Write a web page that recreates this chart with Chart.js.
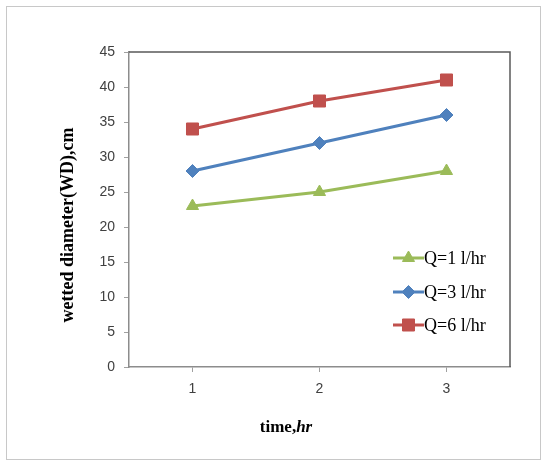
<!DOCTYPE html>
<html>
<head>
<meta charset="utf-8">
<script src="https://cdn.jsdelivr.net/npm/chart.js@4/dist/chart.umd.min.js"></script>
<style>
  html, body { margin: 0; padding: 0; background: #fff; }
  #wrap { position: relative; width: 547px; height: 464px; }
  #frame { position: absolute; left: 6px; top: 6px; width: 535px; height: 454px; border: 1px solid #c8c8c8; box-sizing: border-box; }
  canvas { position: absolute; left: 0; top: 0; }
</style>
</head>
<body>
<div id="wrap">
  <div id="frame"></div>
  <canvas id="c" width="547" height="464"></canvas>
</div>
<script>
const categories = ['1', '2', '3'];
const seriesNames = ['Q=1 l/hr', 'Q=3 l/hr', 'Q=6 l/hr'];
const q1 = [23, 25, 28];
const q3 = [28, 32, 36];
const q6 = [34, 38, 41];
const yTicks = [0, 5, 10, 15, 20, 25, 30, 35, 40, 45];
const xTitleParts = ['time,', 'hr'];
const yTitle = 'wetted diameter(WD),cm';

const colors = ['#9BBB59', '#4F81BD', '#C0504D'];
const styles = ['triangle', 'rectRot', 'rect'];
const radii = [7, 6.5, 8.5];
const dataArr = [q1, q3, q6];

const datasets = dataArr.map((d, i) => ({
  label: seriesNames[i],
  data: d,
  borderColor: colors[i],
  backgroundColor: colors[i],
  borderWidth: 3.2,
  pointStyle: styles[i],
  pointRadius: radii[i],
  pointHoverRadius: radii[i],
  pointBorderWidth: 1,
  pointBorderColor: colors[i],
  pointBackgroundColor: colors[i],
  tension: 0,
  fill: false
}));

const deco = {
  id: 'deco',
  afterDraw(chart) {
    const ctx = chart.ctx;
    const a = chart.chartArea;
    ctx.save();
    ctx.strokeStyle = '#595959';
    ctx.lineWidth = 1.5;
    ctx.beginPath();
    ctx.moveTo(a.left, a.top);
    ctx.lineTo(a.right, a.top);
    ctx.lineTo(a.right, a.bottom);
    ctx.stroke();

    const ly = [258, 292, 325];
    chart.data.datasets.forEach((ds, i) => {
      const y = ly[i];
      ctx.strokeStyle = ds.borderColor;
      ctx.lineWidth = 3;
      ctx.beginPath();
      ctx.moveTo(393, y);
      ctx.lineTo(424, y);
      ctx.stroke();
      ctx.fillStyle = ds.backgroundColor;
      ctx.strokeStyle = ds.borderColor;
      ctx.lineWidth = 1;
      Chart.helpers.drawPoint(ctx, { pointStyle: ds.pointStyle, radius: ds.pointRadius, borderWidth: 1, rotation: 0 }, 408.5, y);
      ctx.fillStyle = '#000';
      ctx.font = '18px "Liberation Serif", "Times New Roman", serif';
      ctx.textAlign = 'left';
      ctx.textBaseline = 'middle';
      ctx.fillText(ds.label, 424, y + 1);
    });

    ctx.fillStyle = '#000';
    ctx.textBaseline = 'middle';
    const f1 = 'bold 17px "Liberation Serif", "Times New Roman", serif';
    const f2 = 'italic bold 17px "Liberation Serif", "Times New Roman", serif';
    ctx.font = f1;
    const w1 = ctx.measureText(xTitleParts[0]).width;
    ctx.font = f2;
    const w2 = ctx.measureText(xTitleParts[1]).width;
    const startX = 286 - (w1 + w2) / 2;
    ctx.textAlign = 'left';
    ctx.font = f1;
    ctx.fillText(xTitleParts[0], startX, 428);
    ctx.font = f2;
    ctx.fillText(xTitleParts[1], startX + w1, 428);

    ctx.translate(68, 225);
    ctx.rotate(-Math.PI / 2);
    ctx.textAlign = 'center';
    ctx.font = 'bold 18px "Liberation Serif", "Times New Roman", serif';
    ctx.fillText(yTitle, 0, 0);
    ctx.restore();
  }
};

new Chart(document.getElementById('c'), {
  type: 'line',
  data: { labels: categories, datasets },
  options: {
    responsive: false,
    animation: false,
    events: [],
    layout: { padding: { left: 0, right: 37, top: 52, bottom: 0 } },
    plugins: { legend: { display: false }, tooltip: { enabled: false } },
    scales: {
      x: {
        offset: true,
        afterFit(s) { s.height = 97; },
        grid: { drawOnChartArea: false, drawTicks: true, tickLength: 5, color: '#a0a0a0', offset: false },
        border: { color: '#8c8c8c', width: 1.5 },
        ticks: { padding: 9, color: '#404040', font: { family: '"Liberation Sans", Arial, sans-serif', size: 14 } }
      },
      y: {
        min: 0, max: 45,
        afterFit(s) { s.width = 129; },
        afterBuildTicks(s) { s.ticks = yTicks.map(v => ({ value: v })); },
        grid: { drawOnChartArea: false, drawTicks: true, tickLength: 5, color: '#a0a0a0' },
        border: { color: '#8c8c8c', width: 1.5 },
        ticks: { padding: 9, color: '#404040', font: { family: '"Liberation Sans", Arial, sans-serif', size: 14 } }
      }
    }
  },
  plugins: [deco]
});
</script>
</body>
</html>
